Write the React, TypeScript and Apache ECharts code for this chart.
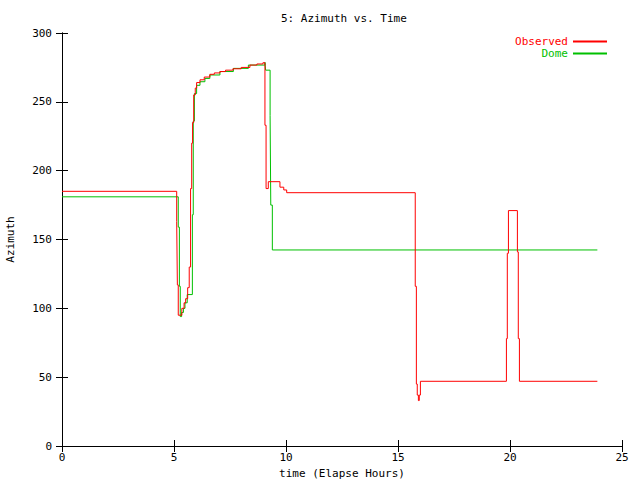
import React, { useEffect, useRef } from "react";
import * as echarts from "echarts";

const observedTimes = [0, 5.12, 5.15, 5.19, 5.35, 5.45, 5.52, 5.61, 5.68, 5.74, 5.79, 5.83, 5.88, 5.95, 6.01, 6.16, 6.35, 6.6, 6.8, 7.05, 7.3, 7.63, 8.0, 8.39, 8.7, 8.97, 9.06, 9.11, 9.21, 9.73, 9.9, 10.03, 15.77, 15.82, 15.86, 15.91, 15.95, 16.0, 19.84, 19.88, 19.93, 20.33, 20.37, 20.42, 23.9];
const observedValues = [185, 163, 117, 95, 100, 104, 107, 115, 130, 187, 220, 235, 255, 260, 264, 266, 268, 270, 271, 272, 273, 274, 275, 276.7, 277.5, 278.4, 233, 187, 192, 188, 186, 184, 116, 45, 37, 33, 37, 47, 78, 140, 171, 141, 78, 47, 47];

const domeTimes = [0, 5.19, 5.24, 5.28, 5.34, 5.42, 5.49, 5.59, 5.82, 5.86, 5.91, 6.01, 6.16, 6.38, 6.6, 7.05, 7.65, 8.32, 9.06, 9.09, 9.29, 9.32, 9.39, 23.9];
const domeValues = [181, 159, 116, 94, 97, 100, 104, 110, 168, 236, 256, 262, 264.6, 267, 269.5, 272, 274.3, 276.7, 278.7, 273, 240, 175, 142.4, 142.4];

const FONT = "'DejaVu Sans Mono', 'Liberation Mono', monospace";
const RED = "#ff0000";
const GREEN = "#00c000";

export default function App() {
  const ref = useRef<HTMLDivElement>(null);
  useEffect(() => {
    if (!ref.current) return;
    const chart = echarts.init(ref.current, null, { renderer: "svg" });
    const obs = observedTimes.map((t, i) => [t, observedValues[i]]);
    const dome = domeTimes.map((t, i) => [t, domeValues[i]]);
    const tickStyle = { show: true, inside: true, length: 6, lineStyle: { color: "#000", width: 1 } };
    const lineAxis = { show: true, lineStyle: { color: "#000", width: 1 } };
    chart.setOption({
      animation: false,
      backgroundColor: "#fff",
      color: [RED, GREEN],
      textStyle: { fontFamily: FONT },
      title: {
        text: "5: Azimuth vs. Time",
        left: 276,
        top: 8,
        textStyle: { fontFamily: FONT, fontSize: 11, fontWeight: "normal", color: "#000" },
      },
      legend: {
        orient: "vertical",
        right: 33,
        top: 36,
        padding: 0,
        align: "right",
        itemWidth: 34,
        itemHeight: 2,
        itemGap: 1,
        icon: "rect",
        itemStyle: { borderWidth: 0 },
        data: [
          { name: "Observed", textStyle: { color: RED }, itemStyle: { color: RED, borderWidth: 0 }, lineStyle: { color: RED } },
          { name: "Dome", textStyle: { color: GREEN }, itemStyle: { color: GREEN, borderWidth: 0 }, lineStyle: { color: GREEN } },
        ],
        textStyle: { fontFamily: FONT, fontSize: 11, lineHeight: 11, padding: 0 },
      },
      grid: { left: 62, right: 18, top: 33, bottom: 34, outerBoundsMode: "none", containLabel: false },
      xAxis: [
        {
          type: "value",
          min: 0,
          max: 25,
          interval: 5,
          position: "bottom",
          name: "time (Elapse Hours)",
          nameLocation: "middle",
          nameGap: 21,
          nameTextStyle: { fontFamily: FONT, fontSize: 11, color: "#000" },
          axisLine: lineAxis,
          axisTick: tickStyle,
          axisLabel: { fontFamily: FONT, fontSize: 11, color: "#000", margin: 6 },
          splitLine: { show: false },
        },
        {
          type: "value",
          min: 0,
          max: 25,
          interval: 5,
          position: "top",
          axisLine: lineAxis,
          axisTick: tickStyle,
          axisLabel: { show: false },
          splitLine: { show: false },
        },
      ],
      yAxis: [
        {
          type: "value",
          min: 0,
          max: 300,
          interval: 50,
          position: "left",
          name: "Azimuth",
          nameLocation: "middle",
          nameRotate: 90,
          nameGap: 46,
          nameTextStyle: { fontFamily: FONT, fontSize: 11, color: "#000" },
          axisLine: lineAxis,
          axisTick: tickStyle,
          axisLabel: { fontFamily: FONT, fontSize: 11, color: "#000", margin: 10 },
          splitLine: { show: false },
        },
        {
          type: "value",
          min: 0,
          max: 300,
          interval: 50,
          position: "right",
          axisLine: lineAxis,
          axisTick: tickStyle,
          axisLabel: { show: false },
          splitLine: { show: false },
        },
      ],
      series: [
        {
          name: "Observed",
          type: "line",
          step: "end",
          data: obs,
          showSymbol: false,
          symbol: "none",
          itemStyle: { color: RED },
          lineStyle: { color: RED, width: 1 },
          z: 3,
        },
        {
          name: "Dome",
          type: "line",
          step: "end",
          data: dome,
          showSymbol: false,
          symbol: "none",
          itemStyle: { color: GREEN },
          lineStyle: { color: GREEN, width: 1 },
          z: 2,
        },
      ],
    });
    return () => chart.dispose();
  }, []);
  return <div ref={ref} style={{ width: 640, height: 480, position: "absolute", left: 0, top: 0 }} />;
}
